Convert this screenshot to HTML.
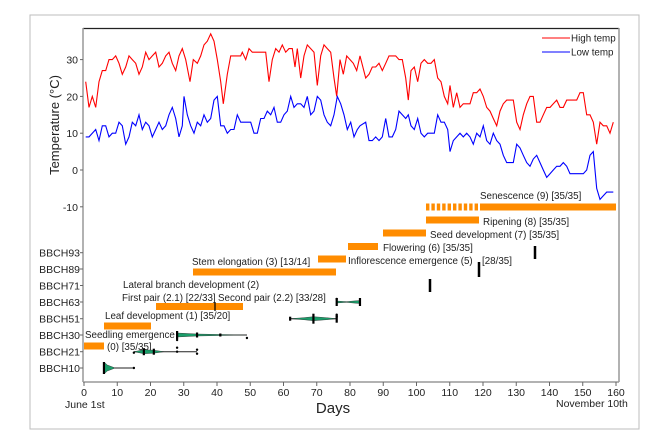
<!DOCTYPE html>
<html><head><meta charset="utf-8"><style>
html,body{margin:0;padding:0;background:#fff;}
svg{display:block;font-family:"Liberation Sans",sans-serif;}
</style></head><body>
<svg id="s" width="670" height="447" viewBox="0 0 670 447" xmlns="http://www.w3.org/2000/svg">
<rect x="30" y="15" width="609" height="414" fill="#fff" stroke="#bdbdbd" stroke-width="1"/>
<line x1="83" y1="28.5" x2="619" y2="28.5" stroke="#222" stroke-width="1.2"/>
<line x1="83" y1="28" x2="83" y2="382" stroke="#999" stroke-width="1.5"/>
<line x1="619" y1="28" x2="619" y2="382" stroke="#999" stroke-width="1.5"/>
<line x1="83" y1="382" x2="619" y2="382" stroke="#999" stroke-width="1.5"/>
<g id="ticks" font-size="10.5" fill="#222"></g>
<text transform="translate(59,125) rotate(-90)" font-size="13" text-anchor="middle" fill="#222">Temperature (°C)</text>
<text x="333" y="413" font-size="15" text-anchor="middle" fill="#222">Days</text>
<text x="65" y="408" font-size="10.5" fill="#222">June 1st</text>
<text x="556" y="407" font-size="10.5" fill="#222">November 10th</text>
<polyline id="hi" fill="none" stroke="#ff0000" stroke-width="1.1"/>
<polyline id="lo" fill="none" stroke="#0000ff" stroke-width="1.1"/>
<line x1="542" y1="38" x2="570" y2="38" stroke="#ff0000" stroke-width="1.1"/>
<text x="571" y="41.5" font-size="9.8" fill="#222">High temp</text>
<line x1="542" y1="52" x2="570" y2="52" stroke="#0000ff" stroke-width="1.1"/>
<text x="571" y="55.5" font-size="9.8" fill="#222">Low temp</text>
<g fill="#ff8c00">
<rect x="84" y="342.5" width="20" height="7"/>
<rect x="104" y="322.5" width="47" height="7"/>
<rect x="156" y="303" width="87" height="7"/>
<rect x="193" y="268.5" width="143" height="7"/>
<rect x="318" y="255.5" width="28" height="7"/>
<rect x="348" y="243" width="30" height="7"/>
<rect x="383" y="229.5" width="43" height="7"/>
<rect x="426" y="216.5" width="53" height="7"/>
<rect x="480" y="203.5" width="136" height="7"/>
<g id="dash"></g>
</g>
<line x1="215" y1="302" x2="215" y2="311" stroke="#000" stroke-width="1.2"/>
<g font-size="9.8" fill="#222">
<text x="85" y="338">Seedling emergence</text>
<text x="107" y="350">(0) [35/35]</text>
<text x="105" y="319">Leaf development (1) [35/20]</text>
<text x="123" y="288">Lateral branch development (2)</text>
<text x="122" y="301">First pair (2.1) [22/33]</text>
<text x="218" y="301">Second pair (2.2) [33/28]</text>
<text x="192" y="265">Stem elongation (3) [13/14]</text>
<text x="348" y="264">Inflorescence emergence (5)</text>
<text x="383" y="251">Flowering (6) [35/35]</text>
<text x="430" y="238">Seed development (7) [35/35]</text>
<text x="483" y="225">Ripening (8) [35/35]</text>
<text x="480" y="199">Senescence (9) [35/35]</text>
<text x="482" y="264">[28/35]</text>
</g>
<g stroke="#000" stroke-width="2.5">
<line x1="430" y1="279" x2="430" y2="292"/>
<line x1="479" y1="262" x2="479" y2="277"/>
<line x1="535" y1="246" x2="535" y2="259"/>
</g>
<g id="vio"></g>
</svg>
<script>
var s='http://www.w3.org/2000/svg';
function el(t,a,p){var e=document.createElementNS(s,t);for(var k in a)e.setAttribute(k,a[k]);(p||document.getElementById('s')).appendChild(e);return e;}
function X(d){return 84+3.325*d;}
function Y(t){return 170-3.68*t;}
var tk=document.getElementById('ticks');
[30,20,10,0,-10].forEach(function(t){el('line',{x1:80,x2:83,y1:Y(t),y2:Y(t),stroke:'#666'},tk);var tx=el('text',{x:78,y:Y(t)+4,'text-anchor':'end'},tk);tx.textContent=t;});
var rows=[['BBCH93',252.7],['BBCH89',269],['BBCH71',285.5],['BBCH63',302],['BBCH51',318.7],['BBCH30',335],['BBCH21',351.7],['BBCH10',368]];
rows.forEach(function(r){el('line',{x1:80,x2:83,y1:r[1],y2:r[1],stroke:'#666'},tk);var tx=el('text',{x:80,y:r[1]+4,'text-anchor':'end'},tk);tx.textContent=r[0];});
for(var d=0;d<=160;d+=10){el('line',{x1:X(d),x2:X(d),y1:382,y2:386,stroke:'#666'},tk);var tx=el('text',{x:X(d),y:396,'text-anchor':'middle'},tk);tx.textContent=d;}
var h1=[[77,24],[87,17],[97,20],[107,17],[117,24],[127,27],[137,27],[147,30],[157,30],[167,31],[177,29],[187,26],[197,28],[207,31],[217,30],[227,29],[237,26],[247,28],[257,32],[267,30],[277,31],[287,32],[297,28],[307,29],[317,31],[327,32],[337,29],[347,27],[357,31],[367,33],[377,30],[390,24],[400,30],[412,29],[422,31],[432,34],[442,35],[452,37],[462,35],[472,30],[482,24],[490,18],[502,26],[512,31],[542,31],[547,32],[557,30],[567,33],[577,32],[617,32],[627,24],[637,30],[647,33],[657,32],[667,34],[677,32],[687,33],[697,33],[705,28],[712,33],[722,25],[732,31],[742,34],[752,33],[762,32],[772,23],[782,31],[792,34],[802,33],[812,32],[822,25],[830,20],[840,30],[850,26],[860,31],[870,30],[880,29],[890,27],[900,31]];
var h2=[[77,25],[87,26],[97,28],[107,28],[117,29],[127,27],[137,29],[147,31],[157,31],[167,31],[177,30],[187,30],[197,25],[205,19],[213,27],[223,28],[233,24],[243,29],[253,30],[263,29],[273,29],[283,30],[293,25],[303,24],[313,20],[323,18],[330,23],[340,17],[350,21],[360,17],[370,18],[390,18],[400,21],[410,21],[420,22],[430,20],[440,17],[450,16],[460,14],[470,12],[480,16],[490,18],[500,19],[520,19],[530,13],[540,11],[550,15],[560,18],[570,20],[580,20],[590,13],[600,13],[610,15],[620,17],[630,17],[640,18],[650,19],[660,17],[670,17],[680,19],[710,19],[720,21],[730,21],[740,15],[750,15],[760,13],[770,7],[780,13],[790,12],[800,12],[810,10],[820,13]];
var l1=[[77,9],[87,9],[97,10],[107,11],[117,8],[127,12],[137,12],[147,9],[157,10],[167,10],[177,13],[187,12],[197,7],[207,9],[217,13],[227,12],[237,15],[247,11],[257,13],[267,12],[277,9],[287,11],[297,13],[307,11],[317,12],[327,15],[337,17],[347,14],[357,9],[367,12],[372,20],[382,15],[392,12],[402,10],[412,13],[422,12],[432,15],[442,13],[452,14],[462,19],[472,20],[482,12],[492,12],[502,10],[512,11],[522,11],[532,15],[542,13],[572,13],[582,10],[592,10],[602,14],[612,14],[622,16],[632,15],[642,17],[652,13],[662,13],[672,15],[682,16],[692,20],[702,17],[712,18],[722,18],[732,17],[742,20],[752,15],[762,16],[772,20],[782,19],[792,15],[802,13],[812,12],[822,15],[832,20],[842,18],[852,15],[862,11],[872,13],[882,9],[892,11],[900,12]];
var l2=[[77,13],[87,8],[97,8],[107,9],[117,8],[127,9],[137,14],[147,9],[157,9],[167,11],[177,16],[187,15],[197,14],[205,15],[213,12],[223,11],[233,14],[243,10],[253,9],[263,10],[283,10],[293,15],[303,13],[313,13],[323,11],[330,5],[340,8],[350,9],[360,10],[370,9],[380,10],[390,9],[400,7],[410,10],[420,9],[430,12],[440,8],[450,7],[460,10],[470,8],[480,7],[490,4],[500,2],[520,2],[530,7],[540,6],[550,4],[560,2],[570,1],[580,3],[590,4],[600,2],[610,0],[620,-2],[630,-1],[640,0],[650,1],[660,1],[670,2],[680,1],[690,-1],[730,-1],[740,0],[750,4],[760,5],[770,-5],[780,-8],[790,-7],[800,-6],[810,-6],[820,-6]];
function pts(a,b){var o=a.map(function(p){return (60+p[0]/3).toFixed(1)+','+Y(p[1]).toFixed(1);});b.forEach(function(p){o.push((340+p[0]/3).toFixed(1)+','+Y(p[1]).toFixed(1));});return o.join(' ');}
document.getElementById('hi').setAttribute('points',pts(h1,h2));
document.getElementById('lo').setAttribute('points',pts(l1,l2));
var dg=document.getElementById('dash');
for(var i=0;i<10;i++){el('rect',{x:426+i*5.4,y:203.5,width:3.4,height:7},dg);}
var v=document.getElementById('vio');
function vio(y,d0,d1,shape,pts2,ticks){
 el('line',{x1:X(d0),x2:X(d1),y1:y,y2:y,stroke:'#222','stroke-width':1},v);
 el('polygon',{points:shape.map(function(p){return X(p[0]).toFixed(1)+','+(y+p[1]).toFixed(1);}).join(' '),fill:'#1a9e6a',stroke:'#222','stroke-width':0.4},v);
 ticks.forEach(function(t){el('line',{x1:X(t[0]),x2:X(t[0]),y1:y-t[1],y2:y+t[1],stroke:'#000','stroke-width':2.2},v);});
 pts2.forEach(function(p){el('circle',{cx:X(p[0]),cy:y+p[1],r:1.2,fill:'#000'},v);});
}
vio(368,6,15,[[6,-6],[7,-3],[9,-0.5],[9,0.5],[7,3],[6,6]],[[15,0]],[[6,6]]);
vio(351.7,15,34,[[15,0],[18,-2],[21,-1.5],[24,0],[21,1.5],[18,2]],[[15,1],[28,-4],[28,0],[34,-2],[34,2]],[[18,3.5],[21,3]]);
vio(335,28,49,[[28,-2],[34,-1],[41,-0.5],[49,0],[41,0.5],[34,1],[28,2]],[[49,3],[41,0],[28,5]],[[28,4],[34,2.5],[41,1.5]]);
vio(318.7,62,76,[[62,0],[66,-1],[69,-2],[73,-1],[76,0],[73,1],[69,2],[66,1]],[[76,-4],[76,-2]],[[62,2],[69,5],[76,4]]);
vio(302,76,83,[[76,-1],[79,-0.3],[81,-1],[83,-1.5],[83,1.5],[81,1],[79,0.3],[76,1]],[[76,-3]],[[76,4],[83,4]]);
</script>
</body></html>
